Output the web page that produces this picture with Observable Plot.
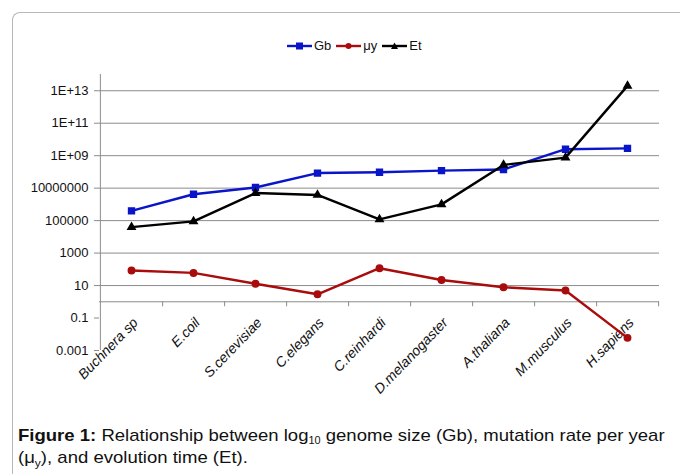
<!DOCTYPE html>
<html><head><meta charset="utf-8">
<script src="https://cdn.jsdelivr.net/npm/d3@7"></script>
<script src="https://cdn.jsdelivr.net/npm/@observablehq/plot@0.6"></script>
<style>
body{margin:0;background:#fff;font-family:"Liberation Sans",Arial,sans-serif;color:#111;}
#frame{position:absolute;left:12px;top:12px;width:720px;height:520px;border-top:1.5px solid #b8b8b8;border-left:1.5px solid #b8b8b8;border-top-left-radius:8px;}
#legend{position:absolute;left:287px;top:38px;font-size:13px;display:flex;align-items:center;gap:2px;white-space:nowrap;}
#legend span{margin-right:3px}
#chart{position:absolute;left:0;top:60px;}
#caption{position:absolute;left:18px;top:425px;font-size:17px;line-height:22px;width:620px;transform:scaleX(1.09);transform-origin:left top;white-space:nowrap;}
</style></head>
<body>
<div id="frame"></div>
<div id="legend"></div>
<div id="chart"></div>
<div id="caption"><b>Figure 1:</b> Relationship between log<sub style="font-size:10px;vertical-align:-3px;line-height:0">10</sub> genome size (Gb), mutation rate per year<br>(μ<sub style="font-size:11px;vertical-align:-4px;line-height:0">y</sub>), and evolution time (Et).</div>
<script>
const categories = ["Buchnera sp","E.coil","S.cerevisiae","C.elegans","C.reinhardi","D.melanogaster","A.thaliana","M.musculus","H.sapiens"];
const gb = [4e5, 4.2e6, 1.1e7, 8.5e7, 9.5e7, 1.2e8, 1.4e8, 2.5e9, 2.8e9];
const mu = [85, 60, 13, 2.9, 117, 22, 7.8, 5, 0.006];
const et = [4e4, 9e4, 5e6, 3.8e6, 1.2e5, 1e6, 2.7e8, 7.6e8, 2e13];
const seriesNames = ["Gb","μy","Et"];
const seriesColors = ["#0a14c8","#a80c0c","#000000"];
const seriesSymbols = ["square","circle","triangle"];
const seriesR = [3.3, 3.2, 2.7];
const yTicks = [1e-3, 1e-1, 10, 1e3, 1e5, 1e7, 1e9, 1e11, 1e13];
const yTickLabels = ["0.001","0.1","10","1000","100000","10000000","1E+09","1E+11","1E+13"];
const gridTicks = yTicks.filter(v => v >= 10);

const seriesValues = [gb, mu, et];
const rows = [];
seriesValues.forEach((vals, s) => vals.forEach((v, i) => rows.push({cat: categories[i], v, s: seriesNames[s]})));

const W = 680, H = 345, ML = 99, MR = 21, MT = 14, MB = 55;
const step = (W - ML - MR) / categories.length;
const yLabel = d => yTickLabels[yTicks.indexOf(d)];

const marks = [
  Plot.ruleY(gridTicks, {stroke: "#8c8c8c", strokeWidth: 1}),
  Plot.ruleY([1], {stroke: "#8c8c8c", strokeWidth: 1}),
  Plot.ruleX(categories.slice(0,1), {x: d => d, dx: -step/2, stroke: "#8c8c8c"}),
  Plot.ruleX(categories, {x: d => d, dx: step/2, y1: 1, y2: 1, insetBottom: -5, stroke: "#8c8c8c"}),
  Plot.axisY({ticks: yTicks, tickFormat: yLabel, tickSize: 5, tickPadding: 6, stroke: "#8c8c8c", fill: "#111", fontSize: 13, label: null}),
  Plot.axisX({tickSize: 0, tickRotate: -46, dy: -42, dx: 4, fontSize: 14, fontStyle: "italic", label: null, fill: "#111"}),
];
seriesNames.forEach((name, s) => {
  const data = rows.filter(r => r.s === name);
  marks.push(Plot.line(data, {x: "cat", y: "v", stroke: seriesColors[s], strokeWidth: 2.4}));
  marks.push(Plot.dot(data, {x: "cat", y: "v", fill: seriesColors[s], stroke: seriesColors[s], symbol: seriesSymbols[s], r: seriesR[s]}));
});

const chart = Plot.plot({
  width: W, height: H, marginLeft: ML, marginRight: MR, marginTop: MT, marginBottom: MB,
  style: {fontFamily: "'Liberation Sans', Arial, sans-serif", background: "transparent", overflow: "visible"},
  x: {type: "point", domain: categories, padding: 0.5, axis: null},
  y: {type: "log", domain: [1e-3, 1e14], axis: null},
  marks
});
document.getElementById("chart").appendChild(chart);

// legend
const leg = document.getElementById("legend");
seriesNames.forEach((name, s) => {
  const sym = seriesSymbols[s] === "square" ? `<rect x="9" y="1.5" width="7" height="7" fill="${seriesColors[s]}"/>`
    : seriesSymbols[s] === "circle" ? `<circle cx="12.5" cy="5" r="3" fill="${seriesColors[s]}"/>`
    : `<path d="M12.5,1.5L16,8L9,8Z" fill="${seriesColors[s]}"/>`;
  leg.insertAdjacentHTML("beforeend",
    `<svg width="25" height="10"><line x1="0" x2="25" y1="5" y2="5" stroke="${seriesColors[s]}" stroke-width="2.4"/>${sym}</svg><span>${name}</span>`);
});
</script>
</body></html>
